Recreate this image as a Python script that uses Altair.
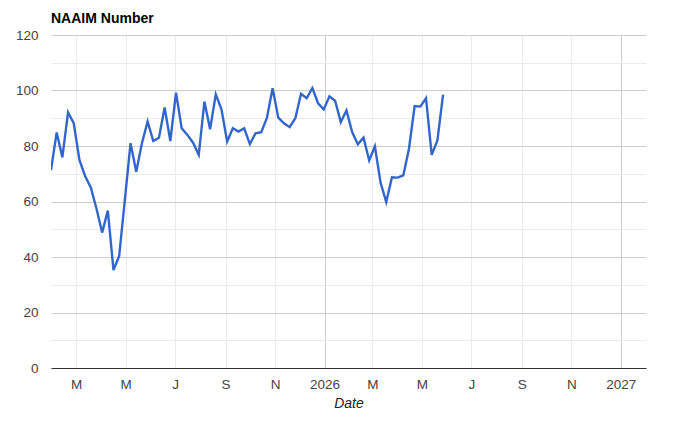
import altair as alt
import pandas as pd

# Weekly NAAIM exposure readings (Wednesdays)
start_date = "2025-01-29"
naaim_values = [
    71.3, 84.9, 75.9, 92.1, 88.2, 75.0, 69.2, 65.1, 57.5, 48.8,
    56.7, 35.3, 40.4, 60.7, 81.0, 70.7, 81.0, 88.8, 81.8, 83.0,
    93.9, 81.8, 99.2, 86.4, 84.0, 81.2, 76.8, 96.0, 86.0, 98.6,
    93.2, 81.6, 86.4, 85.2, 86.4, 80.7, 84.6, 85.0, 90.1, 100.8,
    90.2, 88.2, 86.8, 90.0, 98.8, 97.2, 100.9, 95.4, 93.2, 97.9,
    96.3, 88.6, 92.8, 85.0, 80.6, 83.0, 74.8, 79.9, 66.8, 59.8,
    68.7, 68.6, 69.4, 79.0, 94.4, 94.2, 97.2, 76.8, 82.0, 98.5,
]
dates = pd.date_range(start_date, periods=len(naaim_values), freq="7D")

x_ticks = [
    (2025, 3), (2025, 5), (2025, 7), (2025, 9), (2025, 11),
    (2026, 1), (2026, 3), (2026, 5), (2026, 7), (2026, 9), (2026, 11),
    (2027, 1),
]
y_ticks = list(range(0, 121, 10))

df = pd.DataFrame({"Date": dates.strftime("%Y-%m-%d"), "NAAIM": naaim_values})

FONT = "Arial, Liberation Sans, sans-serif"

x_axis = alt.Axis(
    values=[alt.DateTime(year=y, month=m, date=1, utc=True) for y, m in x_ticks],
    labelExpr="utcmonth(datum.value) == 0 ? utcFormat(datum.value, '%Y') : slice(utcFormat(datum.value, '%b'), 0, 1)",
    ticks=False,
    labelPadding=9,
    labelFont=FONT,
    labelFontSize=13.5,
    labelColor="#444444",
    labelFlush=False,
    labelOverlap=False,
    grid=True,
    gridColor={"condition": {"test": "utcmonth(datum.value) == 0", "value": "#cccccc"}, "value": "#ebebeb"},
    domainColor="#333333",
    domainWidth=1,
    title="Date",
    titleFont=FONT,
    titleFontSize=14,
    titleFontStyle="italic",
    titleFontWeight="normal",
    titleColor="#222222",
    titlePadding=6,
)

y_axis = alt.Axis(
    values=y_ticks,
    labelExpr="datum.value % 20 == 0 ? datum.label : ''",
    ticks=False,
    domain=False,
    labelPadding=13,
    labelFont=FONT,
    labelFontSize=13.5,
    labelColor="#444444",
    grid=True,
    gridColor={"condition": {"test": "datum.value % 20 == 0", "value": "#cccccc"}, "value": "#ebebeb"},
    title=None,
)

chart = (
    alt.Chart(df)
    .mark_line(color="#3366cc", strokeWidth=2.4, clip=True)
    .encode(
        x=alt.X(
            "Date:T",
            axis=x_axis,
            scale=alt.Scale(
                type="utc",
                domain=[
                    alt.DateTime(year=2025, month=1, date=29, utc=True),
                    alt.DateTime(year=2027, month=2, date=1, utc=True),
                ],
            ),
        ),
        y=alt.Y("NAAIM:Q", axis=y_axis, scale=alt.Scale(domain=[0, 120], nice=False)),
    )
    .properties(
        width=595,
        height=333,
        title=alt.TitleParams(
            "NAAIM Number",
            anchor="start",
            frame="group",
            font=FONT,
            fontSize=14,
            fontWeight="bold",
            color="#000000",
            offset=2.5,
        ),
        autosize=alt.AutoSizeParams(type="none"),
        padding={"left": 43, "top": 27, "right": 26, "bottom": 48},
    )
    .configure_view(stroke=None)
)

chart.save("out.html", embed_options={"renderer": "svg", "actions": False})
